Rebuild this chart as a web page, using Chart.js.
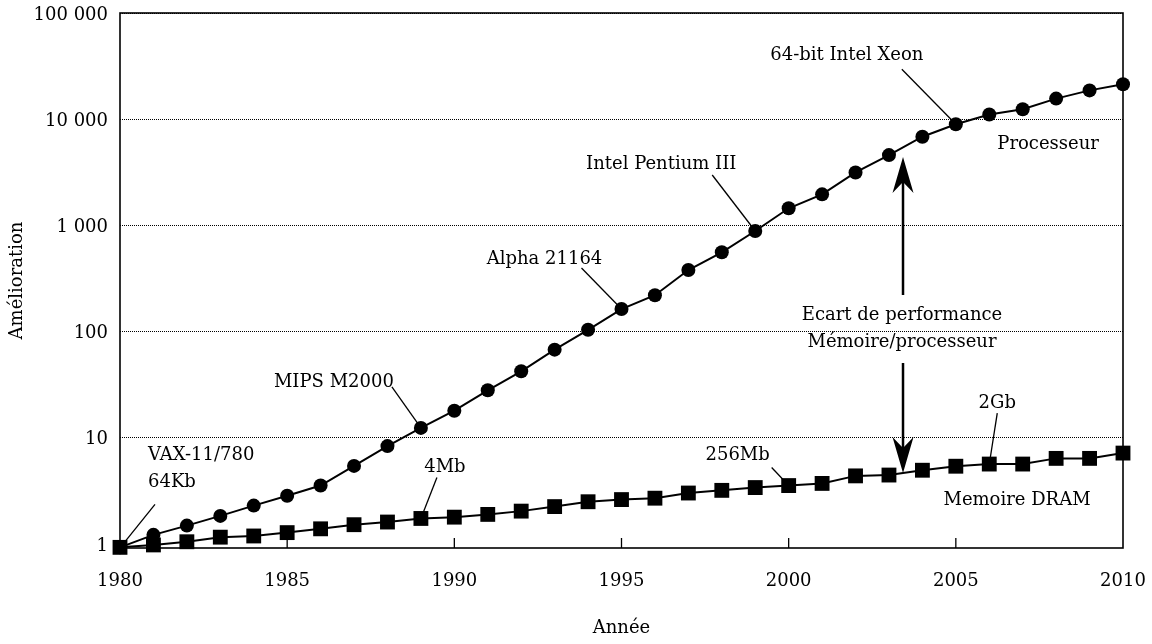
<!DOCTYPE html>
<html><head><meta charset="utf-8">
<script src="https://cdn.jsdelivr.net/npm/chart.js@4.4.0/dist/chart.umd.min.js"></script>
<style>html,body{margin:0;padding:0;background:#fff;}#wrap{width:1152px;height:644px;}</style>
</head><body><div id="wrap"><canvas id="c" width="1152" height="644"></canvas></div>
<script>
const years = [1980,1981,1982,1983,1984,1985,1986,1987,1988,1989,1990,1991,1992,1993,1994,1995,1996,1997,1998,1999,2000,2001,2002,2003,2004,2005,2006,2007,2008,2009,2010];
const processeur = [0.93,1.22,1.49,1.84,2.30,2.85,3.55,5.44,8.35,12.4,18.0,28.0,42.3,67.6,104,163,220,380,558,886,1450,1960,3150,4590,6840,8950,11070,12420,15630,18680,21340];
const dram = [0.93,0.98,1.05,1.16,1.19,1.28,1.39,1.52,1.61,1.74,1.79,1.90,2.04,2.25,2.50,2.62,2.70,3.02,3.20,3.40,3.55,3.72,4.38,4.46,4.95,5.40,5.66,5.66,6.40,6.40,7.18];
const xTicks = [1980,1985,1990,1995,2000,2005,2010];
const yTicks = [1,10,100,1000,10000,100000];
const yTickLabels = ['1','10','100','1 000','10 000','100 000'];

const F = '"DejaVu Serif", serif';
const FS = 18;

// annotations: anchored on a data point of a series, offsets in px
const leaders = [
  {series:'dram', year:1980, text:['VAX-11/780','64Kb'], align:'left', tx:28, ty:-92, from:[2,-2], to:[35,-43]},
  {series:'proc', year:1989, text:['MIPS M2000'], align:'center', tx:-87, ty:-46, from:[0,0], to:[-29,-41]},
  {series:'dram', year:1989, text:['4Mb'], align:'center', tx:24, ty:-51, from:[0,0], to:[16,-41]},
  {series:'proc', year:1995, text:['Alpha 21164'], align:'center', tx:-77, ty:-50, from:[0,0], to:[-40,-41]},
  {series:'proc', year:1999, text:['Intel Pentium III'], align:'center', tx:-94, ty:-67, from:[0,0], to:[-43,-56]},
  {series:'proc', year:2005, text:['64-bit Intel Xeon'], align:'center', tx:-109, ty:-69, from:[0,0], to:[-54,-55]},
  {series:'dram', year:2000, text:['256Mb'], align:'center', tx:-51, ty:-30, from:[0,0], to:[-17,-18]},
  {series:'dram', year:2006, text:['2Gb'], align:'center', tx:8, ty:-61, from:[0,0], to:[8,-51]}
];
// free labels in data coordinates
const labels = [
  {text:['Processeur'], x:2007.76, v:5840},
  {text:['Memoire DRAM'], x:2006.83, v:2.59},
  {text:['Ecart de performance','Mémoire/processeur'], x:2003.39, v:143}
];
const arrows = [
  {x:2003.42, from:221, to:4410},
  {x:2003.42, from:50.6, to:4.67}
];

function seriesVal(s, yr){ const i = years.indexOf(yr); return s==='proc'? processeur[i] : dram[i]; }

const annot = {
  id:'annot',
  beforeDatasetsDraw(chart){
    const {ctx, chartArea:a, scales:{x,y}} = chart;
    ctx.save();
    ctx.strokeStyle='#000';
    ctx.lineWidth=1.6;
    ctx.strokeRect(a.left, a.top, a.right-a.left, a.bottom-a.top);
    ctx.lineWidth=1.3;
    xTicks.slice(1,-1).forEach(t=>{
      const px = x.getPixelForValue(t);
      ctx.beginPath(); ctx.moveTo(px,a.bottom); ctx.lineTo(px,a.bottom-10); ctx.stroke();
    });
    ctx.lineWidth=1.3;
    leaders.forEach(n=>{
      const px = x.getPixelForValue(n.year), py = y.getPixelForValue(seriesVal(n.series,n.year));
      ctx.beginPath(); ctx.moveTo(px+n.from[0],py+n.from[1]); ctx.lineTo(px+n.to[0],py+n.to[1]); ctx.stroke();
    });
    ctx.restore();
  },
  afterDatasetsDraw(chart){
    const {ctx, scales:{x,y}} = chart;
    ctx.save();
    ctx.fillStyle='#000'; ctx.strokeStyle='#000';
    ctx.font = FS+'px '+F;
    ctx.textBaseline='middle';
    leaders.forEach(n=>{
      const px = x.getPixelForValue(n.year), py = y.getPixelForValue(seriesVal(n.series,n.year));
      ctx.textAlign = n.align;
      n.text.forEach((t,i)=>ctx.fillText(t, px+n.tx, py+n.ty+i*27));
    });
    ctx.textAlign='center';
    labels.forEach(l=>{
      const px = x.getPixelForValue(l.x), py = y.getPixelForValue(l.v);
      l.text.forEach((t,i)=>ctx.fillText(t, px, py+i*27));
    });
    arrows.forEach(ar=>{
      const px = x.getPixelForValue(ar.x), y0 = y.getPixelForValue(ar.from), y1 = y.getPixelForValue(ar.to);
      const dir = y1<y0 ? -1 : 1;
      ctx.lineWidth=2.5;
      ctx.beginPath(); ctx.moveTo(px,y0); ctx.lineTo(px,y1-dir*20); ctx.stroke();
      ctx.beginPath();
      ctx.moveTo(px,y1);
      ctx.lineTo(px-10.5,y1-dir*36);
      ctx.lineTo(px,y1-dir*25);
      ctx.lineTo(px+10.5,y1-dir*36);
      ctx.closePath(); ctx.fill();
    });
    ctx.restore();
  }
};

new Chart(document.getElementById('c'), {
  type:'line',
  data:{
    datasets:[
      {label:'Memoire DRAM', data: years.map((yr,i)=>({x:yr,y:dram[i]})), borderColor:'#000', backgroundColor:'#000',
       borderWidth:2, pointStyle:'rect', pointRadius:10.5, pointBorderWidth:0, tension:0, clip:false},
      {label:'Processeur', data: years.map((yr,i)=>({x:yr,y:processeur[i]})), borderColor:'#000', backgroundColor:'#000',
       borderWidth:2, pointStyle:'circle', pointRadius:7, pointBorderWidth:0, tension:0, clip:false}
    ]
  },
  options:{
    responsive:false, animation:false,
    layout:{padding:{left:0,right:29,top:13,bottom:0}},
    plugins:{legend:{display:false}, tooltip:{enabled:false}},
    scales:{
      x:{type:'linear', min:1980, max:2010, position:'bottom',
        afterBuildTicks:s=>{s.ticks = xTicks.map(v=>({value:v}));},
        afterFit:s=>{s.height=96; s.paddingLeft=0; s.paddingRight=0;},
        grid:{display:false, drawTicks:false},
        border:{display:false},
        ticks:{padding:23, color:'#000', font:{family:F,size:FS}, maxRotation:0, autoSkip:false, callback:v=>String(v)},
        title:{display:true, text:'Année', color:'#000', font:{family:F,size:FS}, padding:{top:0,bottom:5}}
      },
      y:{type:'logarithmic', min:0.917, max:100000,
        afterBuildTicks:s=>{s.ticks = yTicks.map(v=>({value:v}));},
        afterFit:s=>{s.width=120; s.paddingTop=0; s.paddingBottom=0;},
        grid:{drawTicks:false, lineWidth:1, color:c=> (c.tick && c.tick.value===1) ? 'rgba(0,0,0,0)' : '#000'},
        border:{display:false, dash:[1,1]},
        ticks:{padding:12, labelOffset:2, color:'#000', font:{family:F,size:FS}, autoSkip:false, callback:v=>{const i=yTicks.indexOf(v); return i<0?'':yTickLabels[i];}},
        title:{display:true, text:'Amélioration', color:'#000', font:{family:F,size:FS}, padding:{top:7,bottom:0}}
      }
    }
  },
  plugins:[annot]
});
</script></body></html>
